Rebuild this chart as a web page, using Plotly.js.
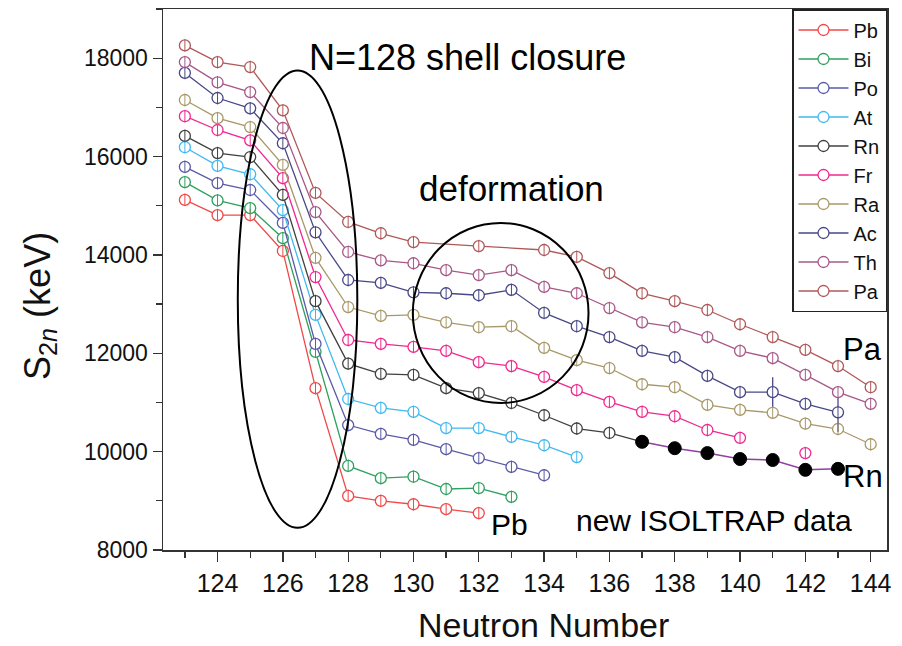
<!DOCTYPE html>
<html>
<head>
<meta charset="utf-8">
<script src="https://cdn.plot.ly/plotly-3.0.1.min.js"></script>
<style>html,body{margin:0;padding:0;background:#fff;}#chart{width:902px;height:646px;}</style>
</head>
<body>
<div id="chart"></div>
<script>
// Neutron numbers (shared x grid)
const N = [123,124,125,126,127,128,129,130,131,132,133,134,135,136,137,138,139,140,141,142,143,144];

// Two-neutron separation energies S2n (keV), null = no point
const Pb = [15120,14810,14810,14080,11290,9100,9000,8930,8830,8750];
const Bi = [15480,15110,14950,14340,12030,9710,9460,9490,9240,9260,9080];
const Po = [15790,15460,15320,14650,12190,10540,10360,10240,10050,9870,9690,9520];
const At = [16190,15810,15640,14910,12780,11070,10890,10810,10480,10480,10300,10130,9890];
const Rn = [16420,16070,15990,15220,13060,11790,11580,11560,11290,11190,10990,10740,10470,10380];
const Fr = [16820,16540,16330,15560,13550,12270,12190,12130,12050,11820,11740,11520,11250,11010,10810,10720,10440,10280,null,9970];
const Ra = [17150,16780,16600,15830,13940,12940,12760,12780,12630,12530,12550,12110,11860,11700,11370,11310,10950,10850,10790,10570,10460,10150];
const Ac = [17700,17190,16980,16270,14460,13490,13430,13240,13220,13180,13290,12820,12550,12330,12050,11920,11540,11210,11210,10970,10800];
const AcErr = [0,0,0,0,0,0,0,0,0,0,0,0,0,0,0,0,0,0,300,0,400];
const Th = [17920,17510,17310,16580,14870,14060,13890,13830,13690,13590,13690,13350,13220,12920,12630,12530,12330,12050,11900,11560,11210,10970];
const Pa = [18260,17920,17820,16940,15260,14670,14440,14260,null,14180,null,14100,13960,13630,13220,13060,12880,12590,12330,12070,11740,11310];

// new ISOLTRAP Rn data
const isoN = [137,138,139,140,141,142,143];
const isoRn = [10200,10070,9970,9850,9830,9630,9650];

const names = ['Pb','Bi','Po','At','Rn','Fr','Ra','Ac','Th','Pa'];
const series = [Pb,Bi,Po,At,Rn,Fr,Ra,Ac,Th,Pa];
const colors = ['#f04848','#30a060','#5a5aa8','#40b8f0','#404040','#f02890','#a89868','#484888','#a85888','#b05858'];

const traces = [];
const bars = [];
names.forEach((nm,i)=>{
  let xs = N.slice(0, series[i].length);
  let ys = series[i].slice();
  if (nm === 'Rn') { xs = xs.concat([isoN[0]]); ys = ys.concat([isoRn[0]]); }
  const t = {
    type:'scatter', mode:'lines+markers', name:nm,
    x:xs, y:ys,
    connectgaps: nm === 'Pa',
    line:{color:colors[i], width:1.3},
    marker:{symbol:'circle', size:11, color:'#ffffff', line:{color:colors[i], width:1.3}},
    hoverinfo:'skip'
  };
  if (nm === 'Ac') {
    t.error_y = {type:'data', array:AcErr, visible:true, color:colors[i], thickness:1.3, width:0};
  }
  traces.push(t);
  // small vertical error-bar strokes drawn inside the open circles
  bars.push({
    type:'scatter', mode:'markers', showlegend:false, hoverinfo:'skip',
    x:xs, y:ys,
    marker:{symbol:'line-ns-open', size:9, color:colors[i], line:{color:colors[i], width:1}}
  });
});

const all = traces.concat(bars);
all.push({
  type:'scatter', mode:'lines+markers', name:'new ISOLTRAP data', showlegend:false, hoverinfo:'skip',
  x:isoN, y:isoRn,
  line:{color:'#9040a0', width:1.5},
  marker:{symbol:'circle', size:13, color:'#000000', line:{color:'#000000', width:1}}
});

const F = 'Liberation Sans, Arial, sans-serif';

const layout = {
  width:902, height:646,
  margin:{l:163, r:15, t:9, b:96},
  paper_bgcolor:'#ffffff', plot_bgcolor:'#ffffff',
  showlegend:true,
  legend:{x:1, y:1, xanchor:'right', yanchor:'top', bgcolor:'#ffffff', bordercolor:'#222', borderwidth:1.5,
          font:{family:F, size:20, color:'#111'}, traceorder:'normal', itemwidth:50},
  xaxis:{
    range:[122.33,144.5], tick0:124, dtick:2, ticks:'outside', ticklen:10, tickwidth:1.3, tickcolor:'#333',
    minor:{dtick:1, tick0:123, ticks:'outside', ticklen:6, tickwidth:1.3, tickcolor:'#333'},
    showline:true, linecolor:'#333', linewidth:1.5, mirror:true, showgrid:false, zeroline:false,
    tickfont:{family:F, size:25, color:'#111'},
    automargin:false
  },
  yaxis:{
    range:[8000,19000], tick0:8000, dtick:2000, tickformat:'d', ticks:'outside', ticklen:9, tickwidth:1.3, tickcolor:'#333',
    minor:{dtick:1000, ticks:'outside', ticklen:6, tickwidth:1.3, tickcolor:'#333'},
    showline:true, linecolor:'#333', linewidth:1.5, mirror:true, showgrid:false, zeroline:false,
    tickfont:{family:F, size:23, color:'#111'},
    automargin:false
  },
  shapes:[
    {type:'circle', xref:'x', yref:'y', x0:124.62, x1:128.28, y0:8450, y1:17750, line:{color:'#000', width:2}},
    {type:'circle', xref:'x', yref:'y', x0:129.98, x1:135.36, y0:10990, y1:14650, line:{color:'#000', width:2}}
  ],
  annotations:[
    {text:'Neutron Number', xref:'paper', yref:'paper', x:0.525, y:-0.1765, xanchor:'center', yanchor:'bottom', borderpad:0, showarrow:false, font:{family:F, size:34, color:'#111'}},
    {text:'S<sub>2<i>n</i></sub> (keV)', xref:'paper', yref:'paper', x:-0.17, y:0.451, textangle:-90, xanchor:'center', yanchor:'middle', showarrow:false, font:{family:F, size:36, color:'#111'}},
    {text:'N=128 shell closure', xref:'x', yref:'y', x:126.75, y:18020, xanchor:'left', yanchor:'middle', showarrow:false, font:{family:F, size:36, color:'#000'}},
    {text:'deformation', xref:'x', yref:'y', x:130.1, y:15360, xanchor:'left', yanchor:'middle', showarrow:false, font:{family:F, size:35, color:'#000'}},
    {text:'Pa', xref:'x', yref:'y', x:143.1, y:12070, xanchor:'left', yanchor:'middle', showarrow:false, font:{family:F, size:31, color:'#000'}},
    {text:'Rn', xref:'x', yref:'y', x:143.1, y:9500, xanchor:'left', yanchor:'middle', showarrow:false, font:{family:F, size:31, color:'#000'}},
    {text:'Pb', xref:'x', yref:'y', x:132.3, y:8510, xanchor:'left', yanchor:'middle', showarrow:false, font:{family:F, size:30, color:'#000'}},
    {text:'new ISOLTRAP data', xref:'x', yref:'y', x:134.92, y:8590, xanchor:'left', yanchor:'middle', showarrow:false, font:{family:F, size:30, color:'#000'}}
  ]
};

Plotly.newPlot('chart', all, layout, {displayModeBar:false, staticPlot:true});
</script>
</body>
</html>
